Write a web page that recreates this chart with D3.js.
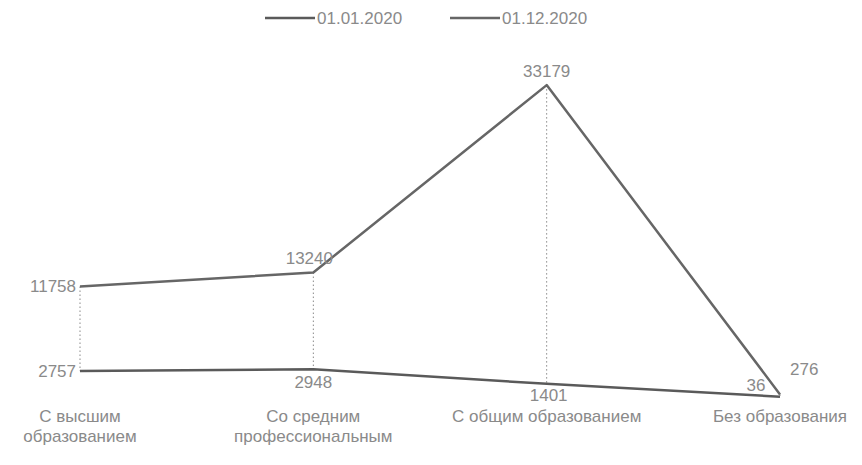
<!DOCTYPE html>
<html>
<head>
<meta charset="utf-8">
<script src="https://cdn.jsdelivr.net/npm/d3@7"></script>
<style>
  body { margin: 0; background: #fff; }
  text { font-family: "Liberation Sans", Arial, sans-serif; }
</style>
</head>
<body>
<div id="chart"></div>
<script>
let categories = ['С высшим образованием', 'Со средним профессиональным', 'С общим образованием', 'Без образования']
let tickLines = [['С высшим', 'образованием'], ['Со средним', 'профессиональным'], ['С общим образованием'], ['Без образования']]
let seriesNames = ['01.01.2020', '01.12.2020']
let valuesJan = [2757, 2948, 1401, 36]
let valuesDec = [11758, 13240, 33179, 276]

let svgWidth = 862
let svgHeight = 465
let fontSize = 17
let textColor = '#8a8a8a'
let lineColors = ['#5a5a5a', '#666666']

let svg = d3.select('#chart').append('svg')
    .attr('width', svgWidth)
    .attr('height', svgHeight)

let x = d3.scalePoint()
    .domain(categories)
    .range([80, 780])

let y = d3.scaleLinear()
    .domain([0, 35000])
    .range([397, 68])

// drop lines
svg.append('g')
    .selectAll('line')
    .data(categories)
    .enter()
    .append('line')
    .attr('x1', d => x(d))
    .attr('x2', d => x(d))
    .attr('y1', (d, i) => y(valuesDec[i]))
    .attr('y2', (d, i) => y(valuesJan[i]))
    .attr('stroke', '#888')
    .attr('stroke-width', 1)
    .attr('stroke-dasharray', '1.5,2.5')

let line = d3.line()
    .x((d, i) => x(categories[i]))
    .y(d => y(d))

let allSeries = [valuesJan, valuesDec]
allSeries.forEach((vals, k) => {
    svg.append('path')
        .datum(vals)
        .attr('d', line)
        .attr('fill', 'none')
        .attr('stroke', lineColors[k])
        .attr('stroke-width', 2.5)
        .attr('stroke-linejoin', 'round')
})

// data labels: [dx, dy, anchor] per point
let janPos = [[-4, 6, 'end'], [0, 19, 'middle'], [2, 17, 'middle'], [-24, -6, 'middle']]
let decPos = [[-4, 6, 'end'], [-4, -9, 'middle'], [0, -8, 'middle'], [10, -19, 'start']]

function drawLabels(vals, pos) {
    svg.append('g')
        .selectAll('text')
        .data(vals)
        .enter()
        .append('text')
        .attr('x', (d, i) => x(categories[i]) + pos[i][0])
        .attr('y', (d, i) => y(d) + pos[i][1])
        .attr('text-anchor', (d, i) => pos[i][2])
        .attr('font-size', fontSize)
        .attr('fill', textColor)
        .text(d => d)
}
drawLabels(valuesJan, janPos)
drawLabels(valuesDec, decPos)

// x axis labels
let ticks = svg.append('g')
    .selectAll('text')
    .data(categories)
    .enter()
    .append('text')
    .attr('x', d => x(d))
    .attr('y', 422)
    .attr('text-anchor', 'middle')
    .attr('font-size', fontSize)
    .attr('fill', textColor)
ticks.each(function(d, i) {
    let t = d3.select(this)
    tickLines[i].forEach((s, j) => {
        t.append('tspan')
            .attr('x', x(d))
            .attr('dy', j == 0 ? 0 : 20)
            .text(s)
    })
})

// legend
let legendX = [265, 450]
seriesNames.forEach((name, k) => {
    let g = svg.append('g').attr('transform', `translate(${legendX[k]}, 18)`)
    g.append('line')
        .attr('x1', 0).attr('x2', 50)
        .attr('y1', 0).attr('y2', 0)
        .attr('stroke', lineColors[k])
        .attr('stroke-width', 2.5)
    g.append('text')
        .attr('x', 52)
        .attr('y', 6)
        .attr('font-size', fontSize)
        .attr('fill', textColor)
        .text(name)
})
</script>
</body>
</html>
